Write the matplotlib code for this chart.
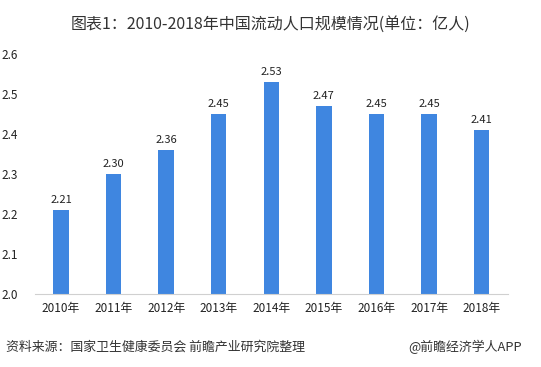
import matplotlib
matplotlib.use("Agg")
import matplotlib.pyplot as plt

plt.rcParams['font.family'] = ['Noto Sans CJK SC', 'DejaVu Sans']

years = ["2010年", "2011年", "2012年", "2013年", "2014年", "2015年", "2016年", "2017年", "2018年"]
values = [2.21, 2.30, 2.36, 2.45, 2.53, 2.47, 2.45, 2.45, 2.41]
yticks = [2.0, 2.1, 2.2, 2.3, 2.4, 2.5, 2.6]

fig = plt.figure(figsize=(5.41, 3.67), dpi=100)
ax = fig.add_axes([0.064, 0.199, 0.875, 0.654])
x = range(len(years))
bars = ax.bar(x, values, width=0.29, color="#3f86e0", zorder=2)
for xi, v in zip(x, values):
    ax.text(xi, v + 0.012, f"{v:.2f}", ha="center", va="bottom", fontsize=8, color="#222222")

ax.set_xlim(-0.5, len(years) - 0.5)
ax.set_ylim(2.0, 2.6)
ax.set_yticks(yticks)
ax.set_yticklabels([f"{t:.1f}" for t in yticks], fontsize=8.5, color="#222222")
ax.set_xticks(list(x))
ax.set_xticklabels(years, fontsize=8.5, color="#222222")
for s in ["top", "right", "left"]:
    ax.spines[s].set_visible(False)
ax.spines["bottom"].set_color("#d0d0d0")
ax.tick_params(axis="both", length=0)
ax.tick_params(axis="y", pad=12)
ax.tick_params(axis="x", pad=6)

fig.text(0.5, 0.935, "图表1：2010-2018年中国流动人口规模情况(单位：亿人)", ha="center", va="center",
         fontsize=11.5, color="#333333")
fig.text(0.012, 0.055, "资料来源：国家卫生健康委员会 前瞻产业研究院整理", ha="left", va="center",
         fontsize=9.3, color="#333333")
fig.text(0.965, 0.055, "@前瞻经济学人APP", ha="right", va="center", fontsize=9.3, color="#333333")

fig.savefig("out.png", dpi=100)
